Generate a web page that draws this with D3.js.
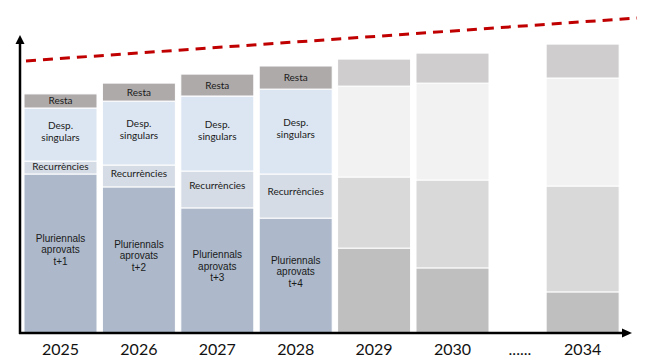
<!DOCTYPE html>
<html>
<head>
<meta charset="utf-8">
<script src="https://cdn.jsdelivr.net/npm/d3@7"></script>
<style>
  body { margin: 0; background: #fff; }
  svg { display: block; }
</style>
</head>
<body>
<div id="chart"></div>
<script>
// dades llegides de la imatge (unitats relatives)
var years = ["2025", "2026", "2027", "2028", "2029", "2030", "2034"];
var pluriennals = [53, 48.7, 41.7, 38.3, 28.3, 21.7, 13.7];
var recurrencies = [4.3, 7.3, 12.3, 14.7, 23.7, 29.3, 35.3];
var despSingulars = [17.7, 21.3, 25, 28.3, 30.3, 32.3, 36];
var resta = [4.7, 6, 7.3, 7.7, 9, 10, 11.3];
var aprovat = [true, true, true, true, false, false, false];
var pluriLabels = ["t+1", "t+2", "t+3", "t+4"];
var limit = [90.7, 105]; // línia discontínua, inici i final
var gapLabel = "......";

var W = 651, H = 362;
var margin = {top: 33, right: 20, bottom: 29, left: 20};

var svg = d3.select("#chart").append("svg")
    .attr("width", W)
    .attr("height", H);

var y = d3.scaleLinear().domain([0, 100]).range([H - margin.bottom, margin.top]);

// posició de cada columna; després del 2030 hi ha un salt
var slot = function (i) { return i < 6 ? i : 5 + 1.66; };
var x = d3.scaleLinear().domain([0, 5]).range([60.5, 452.5]);
var barW = 73;

var keys = ["pluri", "recur", "desp", "resta"];
var rows = years.map(function (yr, i) {
    return {year: yr, i: i, aprovat: aprovat[i],
        pluri: pluriennals[i], recur: recurrencies[i], desp: despSingulars[i], resta: resta[i]};
});
var series = d3.stack().keys(keys)(rows);

var colA = {pluri: "#adb9ca", recur: "#d6dce5", desp: "#dce6f2", resta: "#aeaaaa"};
var colP = {pluri: "#bfbfbf", recur: "#d9d9d9", desp: "#f2f2f2", resta: "#cfcdcd"};

var layer = svg.selectAll(".layer")
    .data(series)
    .enter().append("g")
    .attr("class", "layer");

layer.selectAll("rect")
    .data(function (s) { return s.map(function (d) { d.key = s.key; return d; }); })
    .enter().append("rect")
    .attr("x", function (d) { return x(slot(d.data.i)) - barW / 2; })
    .attr("width", barW)
    .attr("y", function (d) { return y(d[1]); })
    .attr("height", function (d) { return y(d[0]) - y(d[1]); })
    .attr("fill", function (d) { return d.data.aprovat ? colA[d.key] : colP[d.key]; })
    .attr("stroke", "#fff")
    .attr("stroke-width", 1);

// etiquetes dins les columnes aprovades
var calib = "Lato, 'Open Sans', sans-serif";
var arial = "'Liberation Sans', Arial, sans-serif";

rows.filter(function (d) { return d.aprovat; }).forEach(function (d, k) {
    var cx = x(slot(d.i));
    var s = series.map(function (se) { return se[d.i]; });
    var g = svg.append("g").attr("fill", "#1a1a1a").attr("text-anchor", "middle");

    // Resta
    g.append("text")
        .attr("x", cx).attr("y", (y(s[3][0]) + y(s[3][1])) / 2 + 3.5)
        .style("font-family", calib).style("font-size", "10px")
        .text("Resta");

    // Desp. singulars
    var dTop = y(s[2][1]), dBot = y(s[2][0]);
    var dc = (dTop + dBot) / 2 - 4;
    g.append("text").attr("x", cx).attr("y", dc - 2)
        .style("font-family", calib).style("font-size", "10px").text("Desp.");
    g.append("text").attr("x", cx).attr("y", dc + 10)
        .style("font-family", calib).style("font-size", "10px").text("singulars");

    // Recurrències
    var rTop = y(s[1][1]), rBot = y(s[1][0]);
    g.append("text").attr("x", cx).attr("y", rTop + (rBot - rTop) * 0.4 + 3.5)
        .style("font-family", calib).style("font-size", "10px").text("Recurrències");

    // Pluriennals
    var pc = (y(s[0][1]) + y(s[0][0])) / 2 - 4;
    ["Pluriennals", "aprovats", pluriLabels[k]].forEach(function (t, j) {
        g.append("text").attr("x", cx).attr("y", pc + (j - 1) * 11.5 + 3.5)
            .style("font-family", arial).style("font-size", "10px").text(t);
    });
});

// eixos amb fletxa
var x0 = margin.left, yBase = H - margin.bottom;
svg.append("line")
    .attr("x1", x0).attr("y1", yBase + 1).attr("x2", x0).attr("y2", 42)
    .attr("stroke", "#000").attr("stroke-width", 2.5);
svg.append("path")
    .attr("d", "M" + x0 + ",35 L" + (x0 - 4.5) + ",44 L" + (x0 + 4.5) + ",44 Z")
    .attr("fill", "#000");
svg.append("line")
    .attr("x1", x0 - 1).attr("y1", yBase).attr("x2", 624).attr("y2", yBase)
    .attr("stroke", "#000").attr("stroke-width", 2.5);
svg.append("path")
    .attr("d", "M632," + yBase + " L622," + (yBase - 4.5) + " L622," + (yBase + 4.5) + " Z")
    .attr("fill", "#000");

// etiquetes d'anys
svg.selectAll(".yr")
    .data(rows)
    .enter().append("text")
    .attr("class", "yr")
    .attr("x", function (d) { return x(slot(d.i)); })
    .attr("y", 355)
    .attr("text-anchor", "middle")
    .style("font-family", calib)
    .style("font-size", "16px")
    .attr("fill", "#111")
    .text(function (d) { return d.year; });

svg.append("text")
    .attr("x", x(5.86)).attr("y", 355)
    .attr("text-anchor", "middle")
    .style("font-family", calib).style("font-size", "16px")
    .attr("fill", "#111")
    .text(gapLabel);

// línia de límit discontínua
svg.append("line")
    .attr("x1", x0 + 6).attr("y1", y(limit[0]))
    .attr("x2", W - 14).attr("y2", y(limit[1]))
    .attr("stroke", "#c00000")
    .attr("stroke-width", 3)
    .attr("stroke-dasharray", "10,7");
</script>
</body>
</html>
